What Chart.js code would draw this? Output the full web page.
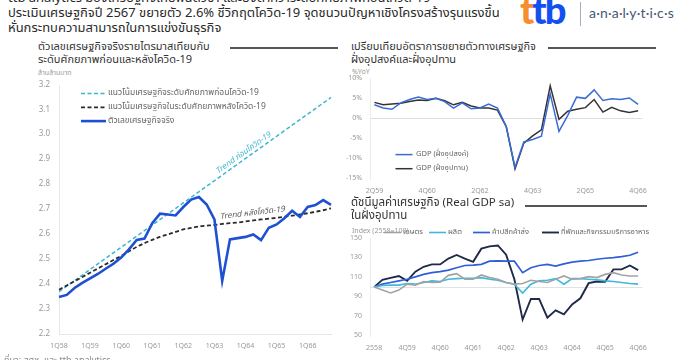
<!DOCTYPE html>
<html lang="th">
<head>
<meta charset="utf-8">
<script src="https://cdn.jsdelivr.net/npm/chart.js@4.4.1/dist/chart.umd.min.js"></script>
<style>
html,body{margin:0;padding:0;background:#fff;}
body{width:685px;height:360px;position:relative;overflow:hidden;font-family:"Noto Sans Thai","Noto Sans","DejaVu Sans",sans-serif;color:#333;}
.abs{position:absolute;white-space:nowrap;}
.head{font-size:13px;color:#2a2a2a;left:8px;line-height:15px;}
.ttl{font-size:11px;color:#333;line-height:13px;}
.unit{font-size:7px;color:#999;}
.rule{position:absolute;height:1.5px;background:#555;}
canvas{position:absolute;}
.logo{font-family:Lato,"Noto Sans",sans-serif;font-weight:900;font-size:38px;letter-spacing:-2px;}
</style>
</head>
<body>
<div class="abs head" style="top:-9px">ttb analytics มองเศรษฐกิจไทยฟื้นตัวช้า และยังต่ำกว่าระดับศักยภาพก่อนโควิด-19</div>
<div class="abs head" style="top:6px">ประเมินเศรษฐกิจปี 2567 ขยายตัว 2.6% ชี้วิกฤตโควิด-19 จุดชนวนปัญหาเชิงโครงสร้างรุนแรงขึ้น</div>
<div class="abs head" style="top:21px">หั่นกระทบความสามารถในการแข่งขันธุรกิจ</div>

<div class="abs logo" style="left:520px;top:-14px"><span style="color:#f68d2e">t</span><span style="color:#1450f0">tb</span></div>
<div class="rule" style="left:580px;top:2px;width:1px;height:24px;background:#aab"></div>
<div class="abs" style="left:589px;top:4px;font-size:14px;color:#4a5878;font-family:Lato,'Noto Sans',sans-serif;letter-spacing:0.2px">a·n·a·l·y·t·i·c·s</div>

<div class="abs ttl" style="left:38px;top:40px">ตัวเลขเศรษฐกิจจริงรายไตรมาสเทียบกับ<br>ระดับศักยภาพก่อนและหลังโควิด-19</div>
<div class="rule" style="left:230px;top:47px;width:108px"></div>
<div class="abs unit" style="left:38px;top:68px">ล้านล้านบาท</div>

<div class="abs ttl" style="left:351px;top:40px">เปรียบเทียบอัตราการขยายตัวทางเศรษฐกิจ<br>ฝั่งอุปสงค์และฝั่งอุปทาน</div>
<div class="rule" style="left:548px;top:47px;width:108px"></div>
<div class="abs unit" style="left:352px;top:67px">%YoY</div>

<canvas id="c1" width="320" height="290" style="left:20px;top:70px"></canvas>
<canvas id="c2" width="325" height="135" style="left:330px;top:66px"></canvas>
<canvas id="c3" width="325" height="134" style="left:330px;top:226px"></canvas>

<div class="abs ttl" style="left:351px;top:196px;font-size:11.5px;background:#fff">ดัชนีมูลค่าเศรษฐกิจ (Real GDP sa)<br>ในฝั่งอุปทาน</div>
<div class="rule" style="left:525px;top:205px;width:122px"></div>
<div class="abs unit" style="left:352px;top:226px">Index (2558=100)</div>

<div class="abs" style="left:4px;top:353px;font-size:9px;color:#888">ที่มา: สศช. และ ttb analytics</div>

<script>
// ---- panel 1: real GDP vs potential (trillion baht)
const quarters1 = ["1Q58","2Q58","3Q58","4Q58","1Q59","2Q59","3Q59","4Q59","1Q60","2Q60","3Q60","4Q60",
  "1Q61","2Q61","3Q61","4Q61","1Q62","2Q62","3Q62","4Q62","1Q63","2Q63","3Q63","4Q63",
  "1Q64","2Q64","3Q64","4Q64","1Q65","2Q65","3Q65","4Q65","1Q66","2Q66","3Q66","4Q66"];
const actualGdp = [2.349,2.357,2.385,2.405,2.423,2.441,2.462,2.482,2.507,2.54,2.578,2.583,
  2.645,2.683,2.68,2.676,2.71,2.74,2.75,2.72,2.66,2.413,2.58,2.585,
  2.59,2.60,2.577,2.627,2.64,2.665,2.695,2.67,2.71,2.718,2.738,2.719];
// pre-covid trend is a straight line: only its two ends are read, the library joins them
const trendPre = [2.37,null,null,null,null,null,null,null,null,null,null,null,
  null,null,null,null,null,null,null,null,null,null,null,null,
  null,null,null,null,null,null,null,null,null,null,null,3.15];
const trendPost = [2.378,2.395,2.412,2.429,2.446,2.463,2.48,2.497,2.514,2.532,2.55,2.565,
  2.578,2.59,2.60,2.61,2.62,2.626,2.632,2.635,2.638,2.642,2.645,2.648,
  2.652,2.656,2.66,2.663,2.667,2.671,2.675,2.68,2.685,2.691,2.697,2.705];

// ---- panel 2: demand vs supply side growth (%YoY)
const quarters2 = ["2Q59","3Q59","4Q59","1Q60","2Q60","3Q60","4Q60","1Q61","2Q61","3Q61","4Q61",
  "1Q62","2Q62","3Q62","4Q62","1Q63","2Q63","3Q63","4Q63","1Q64","2Q64","3Q64","4Q64",
  "1Q65","2Q65","3Q65","4Q65","1Q66","2Q66","3Q66","4Q66"];
const gdpDemand = [3.4,2.6,2.3,3.9,4.7,5.3,4.7,5.0,4.2,2.6,3.9,2.4,2.6,3.6,2.6,-2.0,-12.1,
  -5.8,-5.2,-4.4,6.1,-3.2,0.8,5.3,5.0,7.1,4.5,4.9,4.7,5.1,3.5];
const gdpSupply = [4.0,3.4,3.6,3.8,4.2,4.6,4.5,5.0,4.4,3.4,4.0,3.1,2.6,2.6,2.1,-2.0,-12.5,
  -6.1,-4.3,-2.8,8.1,-0.2,1.8,2.3,2.7,4.7,1.6,2.8,1.9,1.5,1.9];

// ---- panel 3: real GDP sa index by sector (2558=100)
const quarters3 = ["2558","1Q59","2Q59","3Q59","4Q59","1Q60","2Q60","3Q60","4Q60","1Q61","2Q61","3Q61","4Q61",
  "1Q62","2Q62","3Q62","4Q62","1Q63","2Q63","3Q63","4Q63","1Q64","2Q64","3Q64","4Q64",
  "1Q65","2Q65","3Q65","4Q65","1Q66","2Q66","3Q66","4Q66"];
const agri = [100,97,94,97,103,102,105.7,104.7,105,112,113.8,108,108,112.4,109.7,108,104.7,
  103,103.7,107,105.7,104.7,108,111.4,108,108.7,110.7,109.7,113,114.8,112.4,111.4,111.4];
const manuf = [100,101.7,102,102,103.7,103,104.7,106.4,105.7,108,108.7,109,109,109.7,108,107,104.7,
  103,94,103,106.4,107,108.7,103,108.7,108.7,108,107.4,106.4,105.7,104.7,103.7,103];
const trade = [100,103,104.7,106.4,108,110.4,113,114.8,115.8,117.4,119.8,122.1,122.5,123.2,126.5,126.8,126.5,
  126.5,114.8,119.8,122.1,123.2,121.5,123.8,125.5,126.5,127.2,128.5,129.5,130.2,131.2,132.6,135.6];
const hotel = [100,107.4,109.4,111.4,106.4,115.8,120.8,123.2,123.2,129.2,132.9,129.2,125.8,139.3,141.6,142.6,133.2,
  108,66.8,87.9,87.9,68.8,76.2,72.1,82.2,88.6,104,105.7,105.4,118.1,118.1,122.1,117.4];

const FONT = '"Noto Sans Thai","Noto Sans","DejaVu Sans",sans-serif';
const AXIS = '#999';

const legendAt = {
  id:'legendAt',
  afterDraw(chart, args, o){
    if(!o || !o.len) return;
    const ctx = chart.ctx;
    ctx.save();
    ctx.font = o.font;
    ctx.textBaseline = 'middle';
    chart.data.datasets.forEach((ds,i)=>{
      const x = o.xs ? o.xs[i] : o.x;
      const y = o.ys ? o.ys[i] : o.y + i*o.row;
      ctx.strokeStyle = ds.borderColor;
      ctx.lineWidth = ds.borderWidth;
      ctx.setLineDash(ds.borderDash || []);
      ctx.beginPath(); ctx.moveTo(x,y); ctx.lineTo(x+o.len,y); ctx.stroke();
      ctx.setLineDash([]);
      ctx.fillStyle = o.color;
      ctx.fillText(ds.label, x+o.len+o.gap, y);
    });
    ctx.restore();
  }
};

// text written along a line, angle taken from two of its points
const lineNotes = {
  id:'lineNotes',
  afterDatasetsDraw(chart, args, o){
    if(!o || !o.items) return;
    const ctx = chart.ctx;
    o.items.forEach(it=>{
      const pts = chart.getDatasetMeta(it.ds).data;
      const a = pts[it.a], b = pts[it.b];
      const ang = Math.atan2(b.y-a.y, b.x-a.x);
      const px = a.x + (b.x-a.x)*it.t, py = a.y + (b.y-a.y)*it.t;
      ctx.save();
      ctx.translate(px + Math.sin(ang)*it.off, py - Math.cos(ang)*it.off);
      ctx.rotate(ang);
      ctx.font = 'italic 8px ' + FONT;
      ctx.fillStyle = it.color;
      ctx.textAlign = 'center';
      ctx.textBaseline = 'middle';
      ctx.fillText(it.text, 0, 0);
      ctx.restore();
    });
  }
};

// horizontal base line at a given value (axis crossing)
const baseLine = {
  id:'baseLine',
  beforeDatasetsDraw(chart, args, o){
    if(!o || o.value === undefined) return;
    const {ctx, chartArea, scales:{y}} = chart;
    const py = Math.round(y.getPixelForValue(o.value)) + 0.5;
    ctx.save();
    ctx.strokeStyle = o.color; ctx.lineWidth = 1;
    ctx.beginPath(); ctx.moveTo(chartArea.left, py); ctx.lineTo(chartArea.right, py); ctx.stroke();
    ctx.restore();
  }
};

Chart.register(legendAt, lineNotes, baseLine);
Chart.defaults.font.family = FONT;

function xAxis(step, h, offset, pad){
  return {
    type:'category', offset,
    grid:{display:false, drawTicks:false},
    border:{display:false},
    ticks:{autoSkip:false, maxRotation:0, padding:pad, color:AXIS, font:{size:7},
      callback(v,i){ return i % step === 0 ? this.getLabelForValue(v) : ''; }},
    afterFit(s){ s.height = h; }
  };
}

// panel 1
new Chart(document.getElementById('c1'), {
  type:'line',
  data:{ labels:quarters1, datasets:[
    {label:'แนวโน้มเศรษฐกิจระดับศักยภาพก่อนโควิด-19', data:trendPre, borderColor:'#3cb6cf', borderWidth:1.5, borderDash:[4,2.5], spanGaps:true, order:2},
    {label:'แนวโน้มเศรษฐกิจในระดับศักยภาพหลังโควิด-19', data:trendPost, borderColor:'#2b2b2b', borderWidth:1.8, borderDash:[4,2.5], cubicInterpolationMode:'monotone', order:1},
    {label:'ตัวเลขเศรษฐกิจจริง', data:actualGdp, borderColor:'#1f50d2', borderWidth:2.6, order:0}
  ]},
  options:{
    responsive:false, animation:false,
    elements:{point:{radius:0}, line:{tension:0}},
    layout:{padding:{top:15, right:9, left:0, bottom:0}},
    scales:{
      x:{...xAxis(4, 26, false, 8), border:{display:true, color:'#e6e6e6'}},
      y:{min:2.2, max:3.2, grid:{display:false, drawTicks:false}, border:{color:'#e6e6e6'},
        ticks:{stepSize:0.1, padding:9, color:AXIS, font:{size:8}, callback:v=>v.toFixed(1)},
        afterFit(s){ s.width = 39; }}
    },
    plugins:{legend:{display:false}, tooltip:{enabled:false},
      legendAt:{x:61, y:23.5, row:13.8, len:25, gap:2, font:'8.5px '+FONT, color:'#666'},
      lineNotes:{items:[
        {ds:0, a:0, b:35, t:0.69, off:5, text:'Trend ก่อนโควิด-19', color:'#3cb6cf'},
        {ds:1, a:22, b:28, t:0.5, off:7, text:'Trend หลังโควิด-19', color:'#555'}
      ]}
    }
  }
});

// panel 2
new Chart(document.getElementById('c2'), {
  type:'line',
  data:{ labels:quarters2, datasets:[
    {label:'GDP (ฝั่งอุปสงค์)', data:gdpDemand, borderColor:'#3a6cd6', borderWidth:1.5},
    {label:'GDP (ฝั่งอุปทาน)', data:gdpSupply, borderColor:'#333', borderWidth:1.5}
  ]},
  options:{
    responsive:false, animation:false,
    elements:{point:{radius:0}, line:{tension:0}},
    layout:{padding:{top:10, right:10, left:0, bottom:0}},
    scales:{
      x:xAxis(6, 22, true, 8),
      y:{min:-15, max:10,
        grid:{drawTicks:false, color:c=>c.tick.value===0 ? '#dedede' : 'rgba(0,0,0,0)'},
        border:{color:'#ececec'},
        ticks:{stepSize:5, padding:8, color:AXIS, font:{size:7}, callback:v=>v+'%'},
        afterFit(s){ s.width = 40; }}
    },
    plugins:{legend:{display:false}, tooltip:{enabled:false},
      legendAt:{x:65.5, y:88.6, row:14.1, len:17, gap:3.5, font:'7.5px '+FONT, color:'#666'}
    }
  }
});

// panel 3
new Chart(document.getElementById('c3'), {
  type:'line',
  data:{ labels:quarters3, datasets:[
    {label:'เกษตร', data:agri, borderColor:'#a3a3a3', borderWidth:1.6},
    {label:'ผลิต', data:manuf, borderColor:'#3fb9dc', borderWidth:1.6},
    {label:'ค้าปลีกค้าส่ง', data:trade, borderColor:'#2f5fd8', borderWidth:1.7},
    {label:'ที่พักและกิจกรรมบริการอาหาร', data:hotel, borderColor:'#1e2a48', borderWidth:1.9}
  ]},
  options:{
    responsive:false, animation:false,
    elements:{point:{radius:0}, line:{tension:0}},
    layout:{padding:{top:11, right:9, left:0, bottom:0}},
    scales:{
      x:xAxis(4, 24, true, 8),
      y:{min:50, max:150, grid:{display:false, drawTicks:false}, border:{color:'#ececec'},
        ticks:{stepSize:20, padding:8, color:AXIS, font:{size:7}},
        afterFit(s){ s.width = 40; }}
    },
    plugins:{legend:{display:false}, tooltip:{enabled:false},
      baseLine:{value:100, color:'#e2e2e2'},
      legendAt:{xs:[54,99,143,212], ys:[6.5,6.5,6.5,6.5], len:17, gap:2, font:'7.5px '+FONT, color:'#666'}
    }
  }
});
</script>
</body>
</html>
